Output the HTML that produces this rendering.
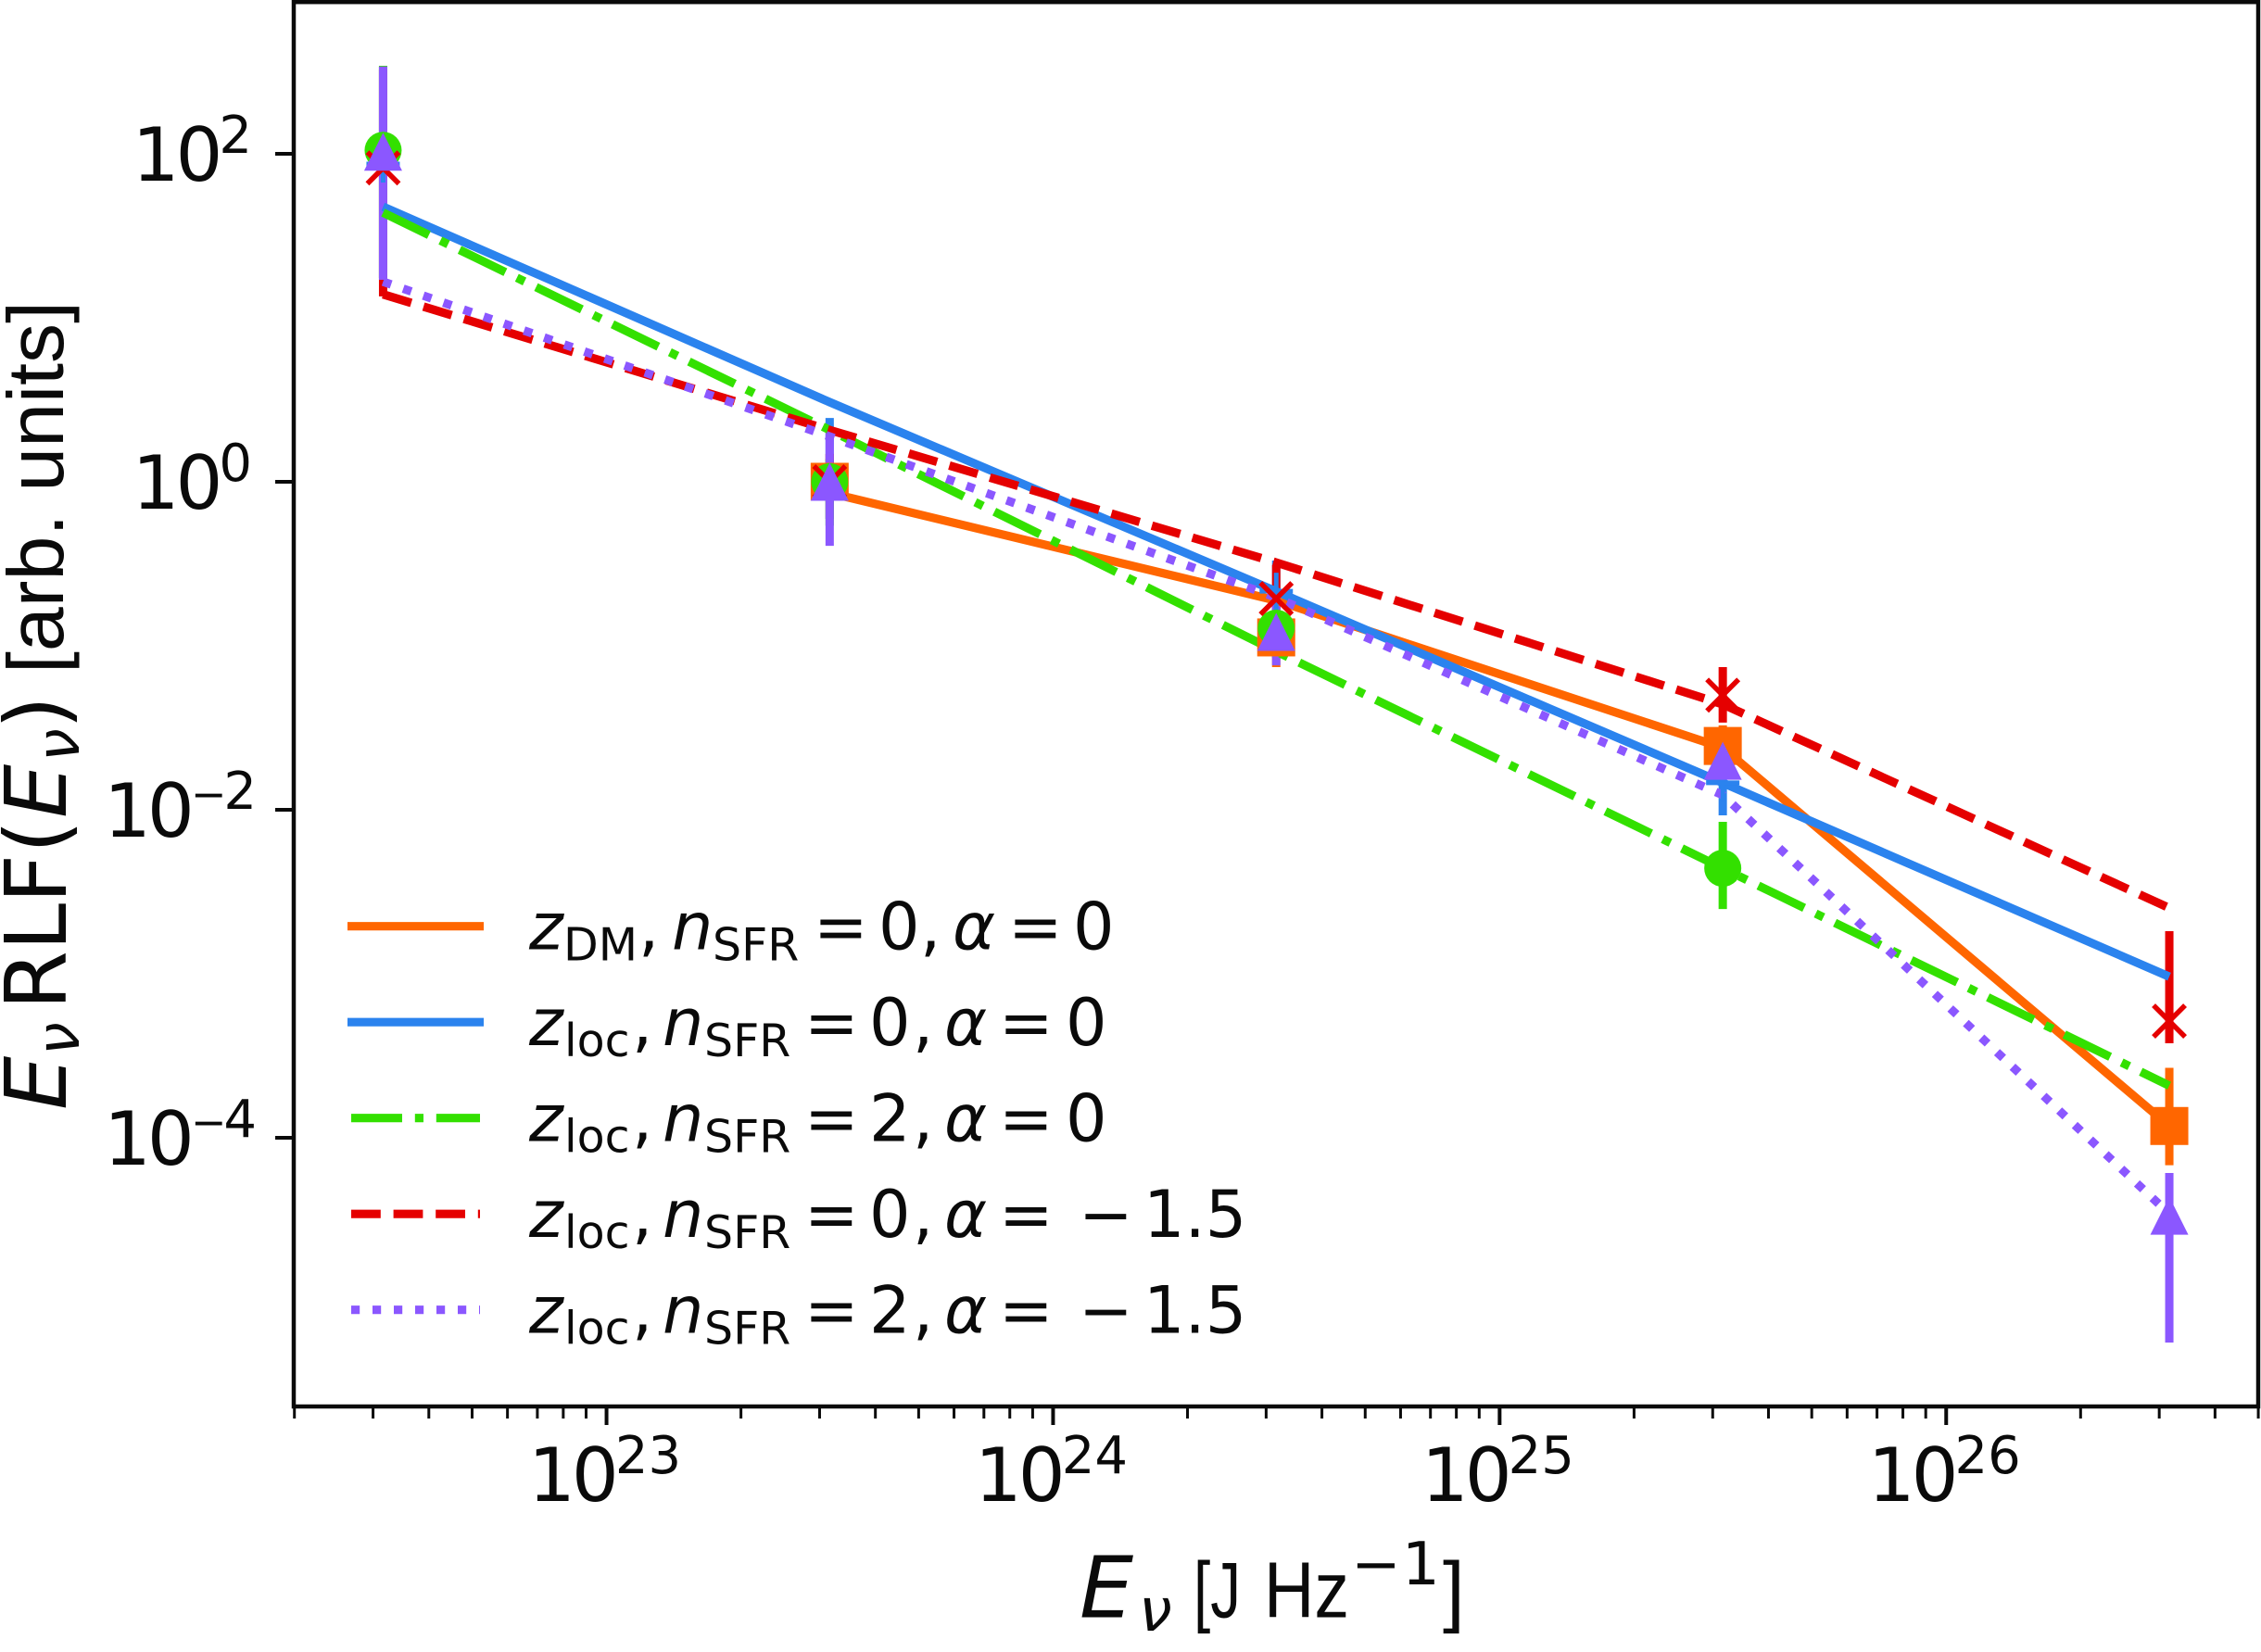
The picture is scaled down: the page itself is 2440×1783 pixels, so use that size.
<!DOCTYPE html>
<html lang="en">
<head>
<meta charset="utf-8">
<title>Radio luminosity function</title>
<style>
html,body{margin:0;padding:0;background:#fff;}
svg{display:block;}
text{font-family:"DejaVu Sans","Liberation Sans",sans-serif;fill:#0a0a0a;}
.it{font-style:italic;}
.lib{font-family:"Liberation Sans","DejaVu Sans",sans-serif;}
</style>
</head>
<body>
<svg id="chart" xmlns="http://www.w3.org/2000/svg" width="2440" height="1783" viewBox="0 0 2440 1783">
  <rect x="0" y="0" width="2440" height="1783" fill="#fff"/>
  <g id="bars"></g>
  <g id="lines"></g>
  <g id="markers"></g>
  <g id="ticks"></g>
  <rect x="317" y="2.2" width="2120" height="1515.8" fill="none" stroke="#0a0a0a" stroke-width="4.5"/>

  <g>
    <g>
      <line x1="375" x2="522" y1="999.7" y2="999.7" stroke="#ff6600" stroke-width="9.2"/>
      <text transform="translate(0,2)" y="1022.6" font-size="70"><tspan class="it" x="571">z</tspan><tspan x="608" y="1034.5" font-size="49">DM</tspan><tspan x="689" y="1022.6">,</tspan><tspan class="it" x="725">n</tspan><tspan x="769" y="1034.5" font-size="49">SFR</tspan><tspan x="878" y="1022.6">=</tspan><tspan x="948">0</tspan><tspan x="993">,</tspan><tspan class="it" x="1028">α</tspan><tspan x="1088">=</tspan><tspan x="1158">0</tspan></text>
    </g>
    <g>
      <line x1="375" x2="522" y1="1103.2" y2="1103.2" stroke="#2b83ee" stroke-width="9.2"/>
      <text transform="translate(0,2)" y="1126.1" font-size="70"><tspan class="it" x="571">z</tspan><tspan x="609" y="1138" font-size="49">loc</tspan><tspan x="682" y="1126.1">,</tspan><tspan class="it" x="715">n</tspan><tspan x="760" y="1138" font-size="49">SFR</tspan><tspan x="868" y="1126.1">=</tspan><tspan x="938">0</tspan><tspan x="985">,</tspan><tspan class="it" x="1019">α</tspan><tspan x="1078">=</tspan><tspan x="1150">0</tspan></text>
    </g>
    <g>
      <line x1="379" x2="518" y1="1206.7" y2="1206.7" stroke="#33e000" stroke-width="9.2" stroke-dasharray="55 13.8 9.2 13.8"/>
      <text transform="translate(0,2)" y="1229.6" font-size="70"><tspan class="it" x="571">z</tspan><tspan x="609" y="1241.5" font-size="49">loc</tspan><tspan x="682" y="1229.6">,</tspan><tspan class="it" x="715">n</tspan><tspan x="760" y="1241.5" font-size="49">SFR</tspan><tspan x="868" y="1229.6">=</tspan><tspan x="938">2</tspan><tspan x="985">,</tspan><tspan class="it" x="1019">α</tspan><tspan x="1078">=</tspan><tspan x="1150">0</tspan></text>
    </g>
    <g>
      <line x1="379" x2="518" y1="1310.2" y2="1310.2" stroke="#e50000" stroke-width="9.2" stroke-dasharray="31.8 13.8"/>
      <text transform="translate(0,2)" y="1333.1" font-size="70"><tspan class="it" x="571">z</tspan><tspan x="609" y="1345" font-size="49">loc</tspan><tspan x="682" y="1333.1">,</tspan><tspan class="it" x="715">n</tspan><tspan x="760" y="1345" font-size="49">SFR</tspan><tspan x="868" y="1333.1">=</tspan><tspan x="938">0</tspan><tspan x="985">,</tspan><tspan class="it" x="1019">α</tspan><tspan x="1078">=</tspan><tspan x="1164">−</tspan><tspan x="1234">1.5</tspan></text>
    </g>
    <g>
      <line x1="379" x2="518" y1="1413.7" y2="1413.7" stroke="#8b57ff" stroke-width="9.2" stroke-dasharray="9.2 13.8"/>
      <text transform="translate(0,2)" y="1436.6" font-size="70"><tspan class="it" x="571">z</tspan><tspan x="609" y="1448.5" font-size="49">loc</tspan><tspan x="682" y="1436.6">,</tspan><tspan class="it" x="715">n</tspan><tspan x="760" y="1448.5" font-size="49">SFR</tspan><tspan x="868" y="1436.6">=</tspan><tspan x="938">2</tspan><tspan x="985">,</tspan><tspan class="it" x="1019">α</tspan><tspan x="1078">=</tspan><tspan x="1164">−</tspan><tspan x="1234">1.5</tspan></text>
    </g>
  </g>

  <text y="1745.5"><tspan class="it" x="1165" font-size="92">E</tspan><tspan class="it" x="1229" y="1760" font-size="64">ν</tspan><tspan class="lib" x="1288" y="1745.5" font-size="85" textLength="51" lengthAdjust="spacingAndGlyphs">[J</tspan><tspan class="lib" x="1364" font-size="85" textLength="92" lengthAdjust="spacingAndGlyphs">Hz</tspan><tspan x="1458" y="1710" font-size="64">−</tspan><tspan x="1513" font-size="64">1</tspan><tspan class="lib" x="1557" y="1745.5" font-size="85">]</tspan></text>

  <g transform="translate(71,1198) rotate(-90)">
    <text y="0"><tspan class="it" x="0" font-size="92">E</tspan><tspan class="it" x="59" y="14" font-size="64">ν</tspan><tspan x="108" y="0" font-size="92">RLF</tspan><tspan x="277" font-size="92">(</tspan><tspan class="it" x="315" font-size="92">E</tspan><tspan class="it" x="376" y="14" font-size="64">ν</tspan><tspan x="411" y="0" font-size="92">)</tspan><tspan class="lib" x="471" y="-3" font-size="85" textLength="402" lengthAdjust="spacingAndGlyphs">[arb. units]</tspan></text>
  </g>
</svg>

<script>
// Categories: burst energies at the data points (J/Hz)
const energies = [3.16e22, 3.16e23, 3.16e24, 3.16e25, 3.16e26];

// Tick labels (powers of ten)
const xTickExponents = [23, 24, 25, 26];
const yTickExponents = [2, 0, -2, -4];
const xMinorDecades = [22, 23, 24, 25, 26];
const xMinorSubs = [2, 3, 4, 5, 6, 7, 8, 9];

// Model lines
const lineOrange = [null, 0.855, 0.189, 0.0239, 1.18e-4];
const lineBlue = [47.6, 3.06, 0.215, 0.0146, 9.6e-4];
const lineGreen = [43.8, 2.07, 0.0925, 0.0044, 2.08e-4];
const lineRed = [13.9, 2.07, 0.322, 0.044, 2.52e-3];
const linePurple = [16.6, 1.89, 0.197, 0.0123, 3.44e-5];

// Marker values
const pointOrange = [null, 1.0, 0.1125, 0.0245, 1.18e-4];
const pointBlue = [86.6, 1.0, 0.215, 0.0146, null];
const pointGreen = [105, 1.0, 0.128, 0.0044, null];
const pointRed = [82, 1.0, 0.194, 0.05, 5.15e-4];
const pointPurple = [103, 1.0, 0.1216, 0.0199, 3.35e-5];

// Error-bar limits
const lowOrange = [null, 0.594, 0.0741, 0.0215, 6.8e-5];
const highOrange = [null, 1.38, 0.162, 0.0327, 2.67e-4];
const lowBlue = [17.5, 0.594, 0.0962, 0.00925, null];
const highBlue = [340, 2.45, 0.331, 0.0262, null];
const lowGreen = [17.5, 0.54, 0.0845, 0.00248, null];
const highGreen = [344, 1.38, 0.162, 0.00845, null];
const lowRed = [13.5, 0.771, 0.125, 0.034, 3.77e-4];
const highRed = [327, 1.48, 0.31, 0.0741, 1.82e-3];
const lowPurple = [17.05, 0.407, 0.076, 0.0146, 5.64e-6];
const highPurple = [341, 1.99, 0.21, 0.023, 6.1e-5];

const xPos = v => 413.6 + (Math.log10(v) - 22.5) * 481.9;
const yPos = v => 520 - Math.log10(v) * 177;
const NS = 'http://www.w3.org/2000/svg';

function mk(tag, attrs, parent) {
  const el = document.createElementNS(NS, tag);
  for (const k in attrs) el.setAttribute(k, attrs[k]);
  parent.appendChild(el);
  return el;
}

const barsG = document.getElementById('bars');
const linesG = document.getElementById('lines');
const markersG = document.getElementById('markers');
const ticksG = document.getElementById('ticks');

const ORANGE = '#ff6600', BLUE = '#2b83ee', GREEN = '#33e000', RED = '#e50000', PURPLE = '#8b57ff';

const series = [
  { key: 'orange', color: ORANGE, line: lineOrange, point: pointOrange, low: lowOrange, high: highOrange, dash: '', marker: 'square' },
  { key: 'blue', color: BLUE, line: lineBlue, point: pointBlue, low: lowBlue, high: highBlue, dash: '', marker: 'plus' },
  { key: 'green', color: GREEN, line: lineGreen, point: pointGreen, low: lowGreen, high: highGreen, dash: '55 13.8 9.2 13.8', marker: 'circle' },
  { key: 'red', color: RED, line: lineRed, point: pointRed, low: lowRed, high: highRed, dash: '31.8 13.8', marker: 'cross' },
  { key: 'purple', color: PURPLE, line: linePurple, point: pointPurple, low: lowPurple, high: highPurple, dash: '9.2 13.8', marker: 'triangle' }
];

series.forEach(s => {
  // error bars
  energies.forEach((e, i) => {
    if (s.low[i] === null || s.high[i] === null) return;
    const bar = mk('line', { x1: xPos(e), x2: xPos(e), y1: yPos(s.high[i]), y2: yPos(s.low[i]), stroke: s.color, 'stroke-width': 9 }, barsG);
    
    
  });
  // line
  const pts = [];
  energies.forEach((e, i) => {
    if (s.line[i] !== null) pts.push(xPos(e).toFixed(1) + ',' + yPos(s.line[i]).toFixed(1));
  });
  const attrs = { points: pts.join(' '), fill: 'none', stroke: s.color, 'stroke-width': 9.2, 'stroke-linejoin': 'round' };
  if (s.dash) attrs['stroke-dasharray'] = s.dash;
  const poly = mk('polyline', attrs, linesG);
  
  
});

series.forEach(s => {
  energies.forEach((e, i) => {
    if (s.point[i] === null) return;
    const x = xPos(e), y = yPos(s.point[i]);
    let m;
    if (s.marker === 'square') {
      m = mk('rect', { x: x - 20.5, y: y - 20.5, width: 41, height: 41, fill: s.color }, markersG);
    } else if (s.marker === 'circle') {
      m = mk('circle', { cx: x, cy: y, r: 20, fill: s.color }, markersG);
    } else if (s.marker === 'triangle') {
      m = mk('polygon', { points: x + ',' + (y - 20.5) + ' ' + (x - 20.5) + ',' + (y + 20.5) + ' ' + (x + 20.5) + ',' + (y + 20.5), fill: s.color }, markersG);
    } else if (s.marker === 'cross') {
      m = mk('path', { d: 'M' + (x - 17) + ' ' + (y - 17) + 'L' + (x + 17) + ' ' + (y + 17) + 'M' + (x - 17) + ' ' + (y + 17) + 'L' + (x + 17) + ' ' + (y - 17), stroke: s.color, 'stroke-width': 5.5, fill: 'none' }, markersG);
    } else {
      m = mk('path', { d: 'M' + (x - 18) + ' ' + y + 'L' + (x + 18) + ' ' + y + 'M' + x + ' ' + (y - 20) + 'L' + x + ' ' + (y + 20), stroke: s.color, 'stroke-width': 5, fill: 'none' }, markersG);
    }
    
    
  });
});

// x minor ticks
xMinorDecades.forEach(d => {
  xMinorSubs.forEach(sub => {
    const x = xPos(sub * Math.pow(10, d));
    if (x < 316 || x > 2438) return;
    const t = mk('line', { x1: x, x2: x, y1: 1518, y2: 1531, stroke: '#0a0a0a', 'stroke-width': 3 }, ticksG);
    
    
  });
});

// x major ticks and labels
xTickExponents.forEach(p => {
  const x = xPos(Math.pow(10, p));
  const t = mk('line', { x1: x, x2: x, y1: 1518, y2: 1538, stroke: '#0a0a0a', 'stroke-width': 4 }, ticksG);
  
  
  const lab = mk('text', { x: x - 2, y: 1620, 'text-anchor': 'middle', 'font-size': 80 }, ticksG);
  
  
  const a = mk('tspan', { 'letter-spacing': -4 }, lab);
  a.textContent = '10';
  const b = mk('tspan', { dy: -30, 'font-size': 56 }, lab);
  b.textContent = String(p);
});

// y major ticks and labels
yTickExponents.forEach(p => {
  const y = yPos(Math.pow(10, p));
  const t = mk('line', { x1: 297, x2: 317, y1: y, y2: y, stroke: '#0a0a0a', 'stroke-width': 4 }, ticksG);
  
  
  const lab = mk('text', { x: p < 0 ? 277 : 272, y: y + 29, 'text-anchor': 'end', 'font-size': 80 }, ticksG);
  
  
  const a = mk('tspan', { 'letter-spacing': -4 }, lab);
  a.textContent = '10';
  if (p < 0) {
    const m = mk('tspan', { dy: -30, 'font-size': 46, 'letter-spacing': -3 }, lab);
    m.textContent = '\u2212';
    const b = mk('tspan', { 'font-size': 56 }, lab);
    b.textContent = String(-p);
  } else {
    const b = mk('tspan', { dy: -30, 'font-size': 56 }, lab);
    b.textContent = String(p);
  }
});
</script>
</body>
</html>
